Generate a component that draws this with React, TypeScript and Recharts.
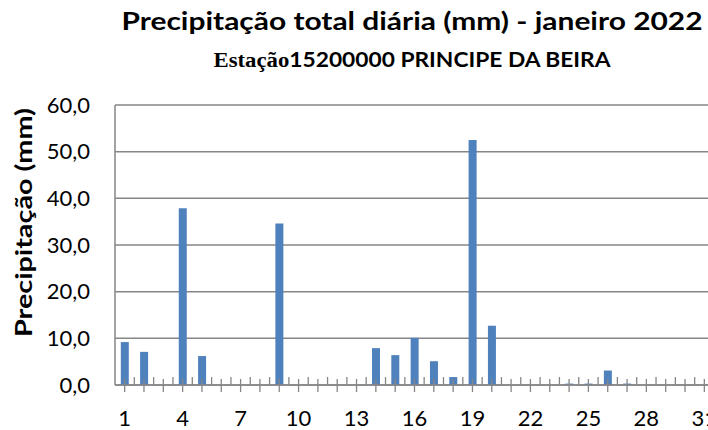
import { BarChart, Bar, XAxis, YAxis, CartesianGrid } from 'recharts';

const DAYS = [1, 2, 3, 4, 5, 6, 7, 8, 9, 10, 11, 12, 13, 14, 15, 16, 17, 18, 19, 20, 21, 22, 23, 24, 25, 26, 27, 28, 29, 30, 31];
const RAIN_MM = [9.2, 7.1, 0, 37.9, 6.2, 0, 0, 0, 34.6, 0, 0, 0, 0, 7.9, 6.4, 10.1, 5.1, 1.7, 52.5, 12.7, 0, 0, 0, 0.3, 0.3, 3.1, 0.3, 0, 0, 0, 0];
const Y_TICKS = [0, 10, 20, 30, 40, 50, 60];
const LABELED_DAYS = [1, 4, 7, 10, 13, 16, 19, 22, 25, 28, 31];

const TITLE = 'Precipitação total diária (mm) - janeiro 2022';
const STATION_PREFIX = 'Estação';
const STATION = '15200000 PRINCIPE DA BEIRA';
const Y_TITLE = 'Precipitação (mm)';

const data = DAYS.map((day, i) => ({ day, mm: RAIN_MM[i] }));

const BAR_BLUE = '#4f81bd';
const AXIS_GRAY = '#868686';
const FONT = 'Lato, "Noto Sans", sans-serif';

const fmt = (v: number) => v.toFixed(1).replace('.', ',');

function DayTick(props: any) {
  const { x, y, payload } = props;
  const half = payload.offset ?? 9.66;
  return (
    <g>
      <line x1={x} x2={x} y1={y - 6} y2={y + 7} stroke={AXIS_GRAY} strokeWidth={1.3} />
      <line x1={x + half} x2={x + half} y1={y - 8} y2={y} stroke={AXIS_GRAY} strokeWidth={1.3} />
      {LABELED_DAYS.includes(payload.value) && (
        <text x={x} y={y + 41} textAnchor="middle" fill="#000" fontSize={22} fontFamily={FONT}>
          {payload.value}
        </text>
      )}
    </g>
  );
}

export default function App() {
  return (
    <div style={{ position: 'absolute', left: 0, top: 0, width: 708, height: 430, overflow: 'hidden', background: '#fff' }}>
      <BarChart
        width={730}
        height={430}
        data={data}
        margin={{ top: 105, right: 16, bottom: 0, left: 0 }}
        barCategoryGap="30%"
      >
        <CartesianGrid vertical={false} stroke={AXIS_GRAY} strokeWidth={1.5} />
        <XAxis
          dataKey="day"
          interval={0}
          height={45}
          tickSize={0}
          tickMargin={0}
          tickLine={false}
          axisLine={{ stroke: AXIS_GRAY, strokeWidth: 1.5 }}
          tick={<DayTick />}
        />
        <YAxis
          width={115}
          domain={[0, 60]}
          ticks={Y_TICKS}
          tickFormatter={fmt}
          tickSize={0}
          tickMargin={25}
          tickLine={false}
          axisLine={{ stroke: AXIS_GRAY, strokeWidth: 1.5 }}
          tick={{ fill: '#000', fontSize: 22, fontFamily: FONT }}
        />
        <Bar dataKey="mm" fill={BAR_BLUE} isAnimationActive={false} />
      </BarChart>
      <svg width={708} height={430} style={{ position: 'absolute', left: 0, top: 0, pointerEvents: 'none' }}>
        <text
          x={412}
          y={30}
          textAnchor="middle"
          fontSize={25}
          fontWeight="bold"
          fontFamily={FONT}
          fill="#000"
          textLength={581}
          lengthAdjust="spacingAndGlyphs"
        >
          {TITLE}
        </text>
        <text
          x={412}
          y={67}
          textAnchor="middle"
          fontSize={20}
          fontWeight="bold"
          fill="#000"
          textLength={397}
          lengthAdjust="spacingAndGlyphs"
        >
          <tspan fontFamily='"Liberation Serif", serif'>{STATION_PREFIX}</tspan>
          <tspan fontFamily={FONT}>{STATION}</tspan>
        </text>
        <text
          x={0}
          y={0}
          transform="translate(32 222.5) rotate(-90)"
          textAnchor="middle"
          fontSize={23}
          fontWeight="bold"
          fontFamily={FONT}
          fill="#000"
          textLength={229}
          lengthAdjust="spacingAndGlyphs"
        >
          {Y_TITLE}
        </text>
      </svg>
    </div>
  );
}
